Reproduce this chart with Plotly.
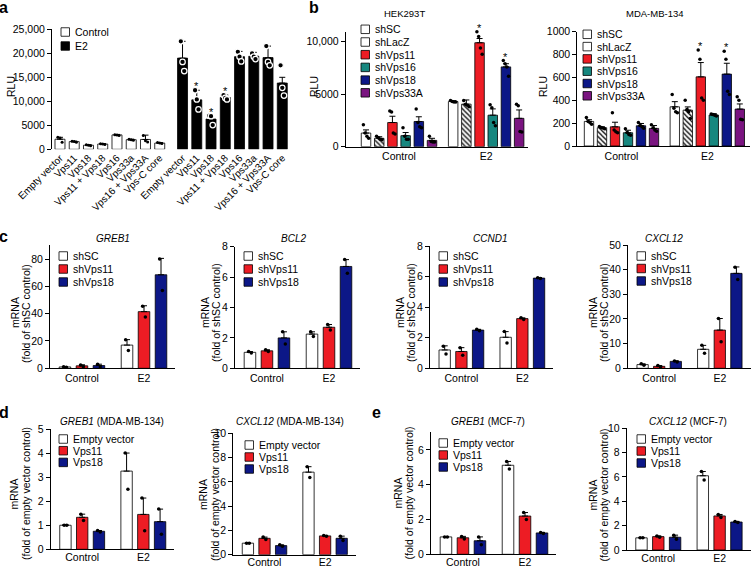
import plotly.graph_objects as go

W, H = 751, 568
FONT = "Liberation Sans, Arial, Helvetica, sans-serif"

# colours
WHITE = "#ffffff"
BLACK = "#000000"
RED = "#ed1c24"
TEAL = "#17877f"
NAVY = "#0c1787"
PURPLE = "#7a1480"

# ---------------- panel a : RLU, Control vs E2 ----------------
A_LABELS = ["Empty vector", "Vps11", "Vps18", "Vps11 + Vps18", "Vps16", "Vps33a",
            "Vps16 + Vps33A", "Vps-C core"]
A_CTRL_MEAN = [2100, 1600, 850, 1100, 3000, 2000, 2050, 1300]
A_CTRL_ERR = [400, 100, 100, 80, 100, 100, 900, 100]
A_CTRL_PTS = [[2500, 2350, 1450], [1700, 1600, 1450], [950, 850, 750], [1150, 1100, 1000],
              [3050, 3000, 2900], [2100, 2000, 1900], [2900, 1800, 1500], [1400, 1300, 1200]]
A_E2_MEAN = [19000, 10300, 6300, 10800, 19300, 19400, 19100, 13800]
A_E2_ERR = [3500, 2000, 700, 500, 1100, 800, 2400, 1200]
A_E2_PTS = [[22500, 18200, 16300], [12300, 10400, 8300], [7000, 6900, 5050],
            [11300, 10700, 10400], [20300, 19300, 18300], [20000, 19300, 18800],
            [21500, 18200, 17500], [17500, 12800, 11200]]
A_STARS = [1, 2, 3]  # E2 bars marked *

# ---------------- panel b : RLU, shRNA ----------------
GROUPS = ["Control", "E2"]
SH6 = ["shSC", "shLacZ", "shVps11", "shVps16", "shVps18", "shVps33A"]
HEK_MEAN = [[1300, 800, 2300, 1050, 2400, 600], [4300, 4050, 9900, 3000, 7600, 2700]]
HEK_ERR = [[300, 150, 600, 300, 450, 200], [80, 400, 400, 600, 300, 800]]
HEK_PTS = [[[2100, 1300, 1000, 800], [1000, 850, 700, 650], [3400, 3300, 1300, 1200],
            [1800, 1000, 700, 700], [3600, 2300, 1900, 1800], [1000, 500, 450, 450]],
           [[4400, 4300, 4250, 4250], [4400, 4050, 3950, 3800], [10950, 10500, 9400, 8800],
            [4000, 3700, 2300, 2000], [8200, 7900, 7600, 6700], [4050, 3900, 1450, 1400]]]
HEK_STARS = [2, 4]
MDA_MEAN = [[215, 160, 168, 116, 177, 154], [343, 314, 605, 271, 629, 323]]
MDA_ERR = [[15, 8, 40, 22, 20, 25], [45, 28, 125, 12, 95, 45]]
MDA_PTS = [[[250, 215, 205, 190], [170, 162, 158, 150], [290, 140, 125, 115],
            [150, 118, 100, 95], [205, 180, 170, 155], [185, 160, 140, 130]],
           [[450, 330, 300, 290], [400, 320, 300, 240], [840, 760, 420, 400],
            [280, 275, 268, 262], [830, 760, 480, 450], [430, 400, 235, 230]]]
MDA_STARS = [2, 4]

# ---------------- panels c-e : mRNA fold ----------------
SH3 = ["shSC", "shVps11", "shVps18"]
OE3 = ["Empty vector", "Vps11", "Vps18"]

GREB1_C_MEAN = [[1.0, 1.8, 2.0], [17.0, 41.5, 68.5]]
GREB1_C_ERR = [[0.3, 0.8, 1.0], [4.0, 4.3, 12.0]]
GREB1_C_PTS = [[[1.2, 0.8], [2.5, 1.2], [3.0, 1.0]], [[21, 13], [45.5, 37.5], [80, 57]]]

BCL2_MEAN = [[1.05, 1.15, 2.0], [2.25, 2.7, 6.7]]
BCL2_ERR = [[0.05, 0.07, 0.4], [0.15, 0.18, 0.45]]
BCL2_PTS = [[[1.1, 1.0], [1.22, 1.1], [2.4, 1.6]], [[2.4, 2.1], [2.88, 2.52], [7.15, 6.25]]]

CCND1_MEAN = [[1.2, 1.1, 2.5], [2.03, 3.25, 5.9]]
CCND1_ERR = [[0.27, 0.25, 0.05], [0.37, 0.05, 0.03]]
CCND1_PTS = [[[1.45, 0.93], [1.35, 0.85], [2.55, 2.45]], [[2.4, 1.66], [3.3, 3.2], [5.93, 5.87]]]

CXCL12_C_MEAN = [[1.5, 0.8, 2.8], [7.7, 15.5, 38.5]]
CXCL12_C_ERR = [[0.3, 0.3, 0.2], [1.6, 4.7, 2.6]]
CXCL12_C_PTS = [[[1.8, 1.2], [1.1, 0.5], [3.0, 2.6]], [[9.3, 6.1], [20.2, 10.8], [41, 36]]]

GREB1_D_MEAN = [[1.0, 1.33, 0.75], [3.25, 1.45, 1.15]]
GREB1_D_ERR = [[0.02, 0.13, 0.03], [0.75, 0.68, 0.52]]
GREB1_D_PTS = [[[1.0, 1.0], [1.46, 1.2], [0.78, 0.72]], [[4.0, 2.5], [2.13, 0.77], [1.67, 0.63]]]

CXCL12_D_MEAN = [[0.95, 1.35, 0.75], [6.8, 1.55, 1.35]]
CXCL12_D_ERR = [[0.02, 0.1, 0.06], [0.45, 0.04, 0.18]]
CXCL12_D_PTS = [[[0.95, 0.95], [1.45, 1.25], [0.81, 0.69]], [[7.25, 6.35], [1.59, 1.51], [1.53, 1.17]]]

GREB1_E_MEAN = [[1.0, 0.95, 0.78], [5.12, 2.2, 1.23]]
GREB1_E_ERR = [[0.02, 0.08, 0.22], [0.22, 0.2, 0.03]]
GREB1_E_PTS = [[[1.0, 1.0], [1.03, 0.88], [1.0, 0.55]], [[5.34, 4.9], [2.4, 2.0], [1.26, 1.2]]]

CXCL12_E_MEAN = [[1.0, 1.1, 1.05], [6.1, 2.8, 2.3]]
CXCL12_E_ERR = [[0.02, 0.06, 0.17], [0.35, 0.12, 0.05]]
CXCL12_E_PTS = [[[1.0, 1.0], [1.16, 1.04], [1.22, 0.88]], [[6.45, 5.75], [2.92, 2.68], [2.35, 2.25]]]


fig = go.Figure()
layout = dict(template="none", width=W, height=H, margin=dict(l=0, r=0, t=0, b=0, pad=0),
              paper_bgcolor="white", plot_bgcolor="white", barmode="overlay",
              showlegend=False, font=dict(family=FONT, size=10.5, color="black"))
annotations = []
shapes = []


def px(x):
    return x / W


def py(y):
    return 1 - y / H


def add_axes(n, x0, slot, r0, r1, ybot, ytop, ymax, yticks, ytext=None,
             xticks=None, xtext=None, xline=True, tickangle=0, xfont=10.5, standoff=0):
    s = "" if n == 1 else str(n)
    x1 = x0 + (r1 - r0) * slot
    layout["xaxis" + s] = dict(domain=[px(x0), px(x1)], range=[r0, r1], anchor="y" + s,
                               showline=xline, linecolor="black", linewidth=1, ticks="",
                               showgrid=False, zeroline=False, tickmode="array", automargin=False,
                               tickvals=xticks, ticktext=xtext, tickangle=tickangle,
                               ticklabelstandoff=standoff, tickfont=dict(size=xfont))
    layout["yaxis" + s] = dict(domain=[py(ybot), py(ytop)], range=[0, ymax], anchor="x" + s,
                               showline=True, linecolor="black", linewidth=1, automargin=False,
                               ticks="outside", ticklen=4, tickwidth=1, tickcolor="black",
                               showgrid=False, zeroline=False, tickmode="array",
                               tickvals=yticks, ticktext=ytext if ytext else [str(v) for v in yticks],
                               tickfont=dict(size=10.5))
    return "x" + s, "y" + s


def spread(k, w):
    if k == 1:
        return [0.0]
    return [-w + 2 * w * i / (k - 1) for i in range(k)]


def bar(xa, ya, xs, ys, errs, color, width, pattern=None):
    marker = dict(color=color, line=dict(color="black", width=0.8))
    if pattern:
        marker["pattern"] = dict(shape="\\", fgcolor="black", bgcolor="white", size=3.5, solidity=0.35)
    fig.add_trace(go.Bar(x=xs, y=ys, width=width, marker=marker, xaxis=xa, yaxis=ya,
                         error_y=dict(type="data", array=errs, arrayminus=[0] * len(errs),
                                      symmetric=False, color="black", thickness=1, width=3)))


def dots(xa, ya, xs, pts, w, size=3.5, edge="black", line=0):
    X, Y = [], []
    for x, p in zip(xs, pts):
        for o, v in zip(spread(len(p), w), p):
            X.append(x + o)
            Y.append(v)
    fig.add_trace(go.Scatter(x=X, y=Y, mode="markers", xaxis=xa, yaxis=ya, cliponaxis=False,
                             marker=dict(size=size, color="black",
                                         line=dict(width=line, color=edge))))


def stars(xa, ya, xs, tops):
    for x, t in zip(xs, tops):
        annotations.append(dict(x=x, y=t, xref=xa, yref=ya, text="*", showarrow=False,
                                yanchor="middle", yshift=4, font=dict(size=11)))


def text(x, y, t, size=10.5, angle=0, anchor="center"):
    annotations.append(dict(x=px(x), y=py(y), xref="paper", yref="paper", text=t,
                            showarrow=False, xanchor=anchor, yanchor="middle",
                            textangle=angle, font=dict(size=size)))


def legend(xs, y0, dy, items, size=8.5):
    for i, (label, color, hatch) in enumerate(items):
        yc = y0 + i * dy
        X0, X1, Y0, Y1 = xs, xs + size, yc - size / 2, yc + size / 2
        shapes.append(dict(type="rect", xref="paper", yref="paper", x0=px(X0), x1=px(X1),
                           y0=py(Y1), y1=py(Y0), fillcolor=color,
                           line=dict(color="black", width=0.8)))
        if hatch:
            path = ""
            c = -size + 1.6
            while c < size:
                xa0, xa1 = max(X0, Y0 + c), min(X1, Y1 + c)
                if xa1 > xa0:
                    path += "M%.5f,%.5f L%.5f,%.5f " % (px(xa0), py(xa0 - c), px(xa1), py(xa1 - c))
                c += 2.4
            shapes.append(dict(type="path", xref="paper", yref="paper", path=path,
                               line=dict(color="black", width=0.7)))
        text(X1 + 3, yc, label, anchor="left")


# ---------------- panel a ----------------
xa, ya = add_axes(1, 52, 14.25, -0.56, 16.2, 149.3, 29.3, 25000,
                  [0, 5000, 10000, 15000, 20000, 25000],
                  ["0", "5000", "10,000", "15,000", "20,000", "25,000"],
                  xline=False, tickangle=-45, xfont=10)
ctrl_x = list(range(len(A_LABELS)))
e2_x = [8.6 + i for i in ctrl_x]
layout["xaxis"]["tickvals"] = ctrl_x + e2_x
layout["xaxis"]["ticktext"] = A_LABELS + A_LABELS
bar(xa, ya, ctrl_x, A_CTRL_MEAN, A_CTRL_ERR, WHITE, 0.7)
bar(xa, ya, e2_x, A_E2_MEAN, A_E2_ERR, BLACK, 0.7)
dots(xa, ya, ctrl_x, A_CTRL_PTS, 0.15, size=3)
# black dots with a white rim: rings on the black bars, dots above them
dots(xa, ya, e2_x, A_E2_PTS, 0.12, size=5.5, edge="white", line=1.2)
stars(xa, ya, [e2_x[i] for i in A_STARS],
      [max(A_E2_MEAN[i] + A_E2_ERR[i], max(A_E2_PTS[i])) for i in A_STARS])
legend(61, 32, 14, [("Control", WHITE, False), ("E2", BLACK, False)])
text(11, 87, "RLU", angle=-90)
text(3.5, 8, "<b>a</b>", size=16)

# ---------------- panel b ----------------
SH6_COLORS = [WHITE, WHITE, RED, TEAL, NAVY, PURPLE]
SH6_HATCH = [False, True, False, False, False, False]
B_E2 = 6.6


def panel_b(n, x0, slot, r0, r1, ybot, ytop, ymax, yticks, ytext, mean, err, pts, star_idx):
    xa, ya = add_axes(n, x0, slot, r0, r1, ybot, ytop, ymax, yticks, ytext,
                      xticks=[2.5, B_E2 + 2.5], xtext=GROUPS)
    for s in range(len(SH6)):
        xs = [s, B_E2 + s]
        bar(xa, ya, xs, [mean[0][s], mean[1][s]], [err[0][s], err[1][s]],
            SH6_COLORS[s], 0.72, pattern=SH6_HATCH[s])
        dots(xa, ya, xs, [pts[0][s], pts[1][s]], 0.2, size=3.5)
    stars(xa, ya, [B_E2 + i for i in star_idx],
          [max(mean[1][i] + err[1][i], max(pts[1][i])) for i in star_idx])


panel_b(2, 345.7, 13.2, -1.54, 12.27, 146.7, 31.7, 10950, [0, 5000, 10000],
        ["0", "5000", "10,000"], HEK_MEAN, HEK_ERR, HEK_PTS, HEK_STARS)
panel_b(3, 577.3, 13.0, -0.9, 12.38, 146, 31.7, 1000, [0, 200, 400, 600, 800, 1000],
        None, MDA_MEAN, MDA_ERR, MDA_PTS, MDA_STARS)
sh6_items = list(zip(SH6, SH6_COLORS, SH6_HATCH))
legend(361, 29.3, 12.7, sh6_items)
legend(583, 34.3, 12.3, sh6_items)
text(405, 14, "HEK293T", size=9.5)
text(655, 14, "MDA-MB-134", size=9.5)
text(314, 87, "RLU", angle=-90)
text(543, 87, "RLU", angle=-90)
text(314, 8, "<b>b</b>", size=16)

# ---------------- panels c-e ----------------
C3_COLORS = [WHITE, RED, NAVY]
E2_OFF = 3.65
MRNA = [
    # n, title, names, mean, err, pts, x0, slot, ybot, ytop, ymax, yticks, title xy, ylab x, ylab y, legend
    (4, "<i>GREB1</i>", SH3, GREB1_C_MEAN, GREB1_C_ERR, GREB1_C_PTS, 50, 17, 368.3, 245, 90.3,
     [0, 20, 40, 60, 80], (113, 238), (15, 26), 313, (59, 256, 13)),
    (5, "<i>BCL2</i>", SH3, BCL2_MEAN, BCL2_ERR, BCL2_PTS, 235, 17, 368.3, 246.7, 8,
     [0, 2, 4, 6, 8], (293, 238), (205, 216), 313, (244, 256, 13)),
    (6, "<i>CCND1</i>", SH3, CCND1_MEAN, CCND1_ERR, CCND1_PTS, 430, 16.7, 368.3, 246, 8,
     [0, 2, 4, 6, 8], (490, 238), (400, 411), 313, (439, 256, 13)),
    (7, "<i>CXCL12</i>", SH3, CXCL12_C_MEAN, CXCL12_C_ERR, CXCL12_C_PTS, 628, 16.6, 368.3, 245, 50,
     [0, 10, 20, 30, 40, 50], (664, 238), (593, 604), 313, (637, 256, 12.5)),
    (8, "<i>GREB1</i> (MDA-MB-134)", OE3, GREB1_D_MEAN, GREB1_D_ERR, GREB1_D_PTS, 50.7, 16.75,
     549.3, 429, 5, [0, 1, 2, 3, 4, 5], (112, 421), (13.5, 26), 494, (59, 439, 11.7)),
    (9, "<i>CXCL12</i> (MDA-MB-134)", OE3, CXCL12_D_MEAN, CXCL12_D_ERR, CXCL12_D_PTS, 233.3, 16.6,
     554.7, 433.3, 10, [0, 2, 4, 6, 8, 10], (290, 421), (203, 215), 495, (245, 445, 12)),
    (10, "<i>GREB1</i> (MCF-7)", OE3, GREB1_E_MEAN, GREB1_E_ERR, GREB1_E_PTS, 431, 17,
     554.3, 431.7, 7.05, [0, 2, 4, 6], (487.5, 421), (397.5, 408.5), 493, (439, 443, 12)),
    (11, "<i>CXCL12</i> (MCF-7)", OE3, CXCL12_E_MEAN, CXCL12_E_ERR, CXCL12_E_PTS, 626.7, 16.8,
     550, 428.3, 10, [0, 2, 4, 6, 8, 10], (688, 421), (592.5, 603.5), 495, (637, 439, 12)),
]

for (n, title, names, mean, err, pts, x0, slot, ybot, ytop, ymax, yticks,
     tpos, ylx, yly, leg) in MRNA:
    xa, ya = add_axes(n, x0, slot, -0.88, 6.5, ybot, ytop, ymax, yticks,
                      xticks=[1, E2_OFF + 1], xtext=GROUPS, standoff=-2 if n >= 8 else 0)
    for s in range(3):
        xs = [s, E2_OFF + s]
        bar(xa, ya, xs, [mean[0][s], mean[1][s]], [err[0][s], err[1][s]], C3_COLORS[s], 0.68)
        dots(xa, ya, xs, [pts[0][s], pts[1][s]], 0.08, size=3.5)
    text(tpos[0], tpos[1], title, size=10)
    ctrl_name = "shSC control" if names is SH3 else "empty vector control"
    text(ylx[0], yly, "mRNA", angle=-90)
    text(ylx[1], yly, "(fold of %s)" % ctrl_name, angle=-90)
    legend(leg[0], leg[1], leg[2], [(nm, c, False) for nm, c in zip(names, C3_COLORS)])

text(3.5, 236, "<b>c</b>", size=16)
text(3.5, 412, "<b>d</b>", size=16)
text(376.5, 412, "<b>e</b>", size=16)

layout["annotations"] = annotations
layout["shapes"] = shapes
fig.update_layout(**layout)
# the page's default body margin would push the 751x568 figure off the window
fig.write_html("out.html", config={"displayModeBar": False},
               post_script="document.body.style.margin='0';")
